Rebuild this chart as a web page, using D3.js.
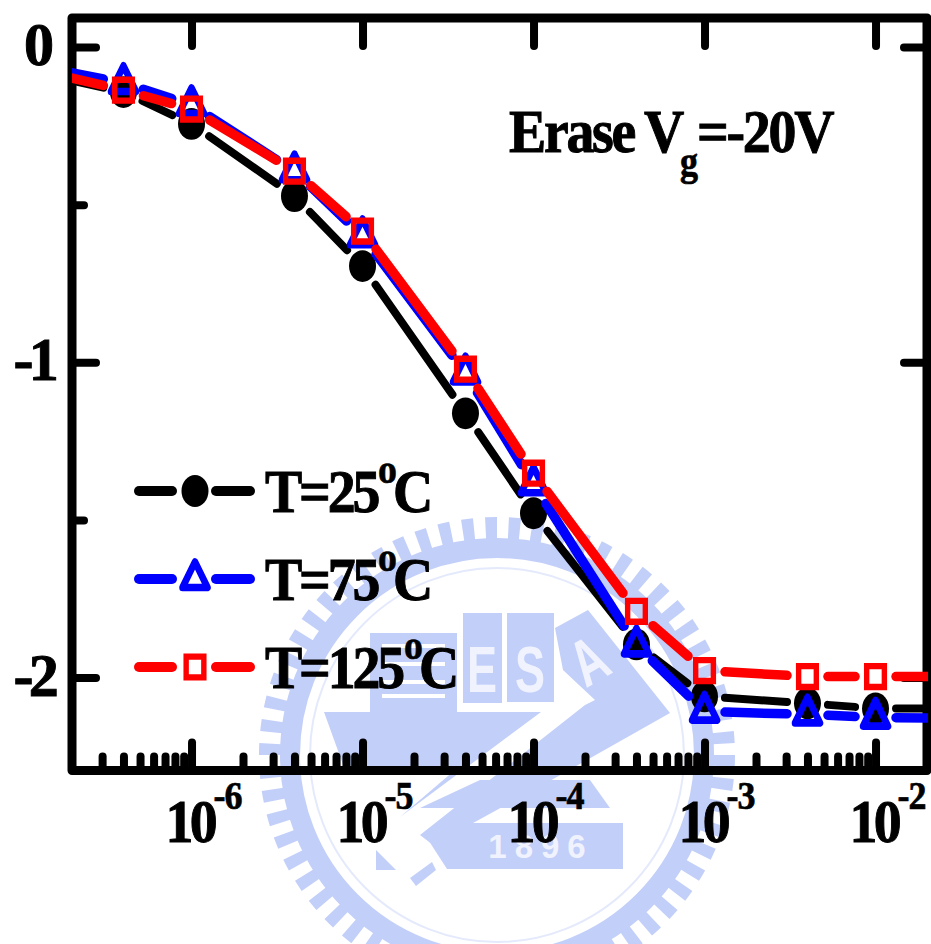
<!DOCTYPE html>
<html>
<head>
<meta charset="utf-8">
<script src="https://cdn.jsdelivr.net/npm/d3@7"></script>
<style>
html, body { margin: 0; padding: 0; background: #fff; overflow: hidden; }
text { font-family: "Liberation Serif", serif; font-weight: bold; fill: #000; }
</style>
</head>
<body>
<div id="svg-area"></div>
<script>
// chart values (end points lie outside the frame and get clipped)
const stressTimes = [1e-7, 4e-7, 1e-6, 4e-6, 1e-5, 4e-5, 1e-4, 4e-4, 1e-3, 4e-3, 1e-2, 4e-2]
const shift25 = [-0.07, -0.143, -0.244, -0.473, -0.695, -1.162, -1.479, -1.895, -2.06, -2.082, -2.098, -2.098]
const shift75 = [-0.05, -0.114, -0.184, -0.394, -0.6, -1.035, -1.387, -1.898, -2.108, -2.117, -2.127, -2.13]
const shift125 = [-0.06, -0.137, -0.197, -0.394, -0.584, -1.022, -1.352, -1.79, -1.978, -1.997, -1.997, -1.997]

const seriesNames = ["25", "75", "125"]
const seriesColors = ["#000", "#00f", "#f00"]
const seriesValues = [shift25, shift75, shift125]

const xMajor = [1e-6, 1e-5, 1e-4, 1e-3, 1e-2]
const xExponents = ["-6", "-5", "-4", "-3", "-2"]
const xMinor = [3e-7, 4e-7, 5e-7, 6e-7, 7e-7, 8e-7, 9e-7,
    2e-6, 3e-6, 4e-6, 5e-6, 6e-6, 7e-6, 8e-6, 9e-6,
    2e-5, 3e-5, 4e-5, 5e-5, 6e-5, 7e-5, 8e-5, 9e-5,
    2e-4, 3e-4, 4e-4, 5e-4, 6e-4, 7e-4, 8e-4, 9e-4,
    2e-3, 3e-3, 4e-3, 5e-3, 6e-3, 7e-3, 8e-3, 9e-3]
const yMajor = [0, -1, -2]
const yMinor = [-0.5, -1.5]

const width = 931, height = 944
const frame = { left: 72, right: 927, top: 18, bottom: 770.5 }
const stretch = 1.18   // the original picture is stretched vertically

const svg = d3.select("#svg-area").append("svg")
        .attr("width", width)
        .attr("height", height)
        .style("display", "block")

const x = d3.scaleLog().domain([2e-7, 2e-2]).range([frame.left, frame.right])
const y = d3.scaleLinear().domain([0.092, -2.295]).range([frame.top, frame.bottom])

// one run of condensed text, a thin stroke makes it as heavy as the original
const run = (parent, px, py, str, size, spacing, anchor, sx) => parent.append("text")
        .attr("transform", `translate(${px},${py}) scale(${sx || 0.9},1)`)
        .attr("text-anchor", anchor || "start")
        .attr("stroke", "#000")
        .attr("stroke-width", size > 45 ? 1 : 0.7)
        .style("font-size", size + "px")
        .style("letter-spacing", (spacing || 0) + "px")
        .text(str)


const drawWatermark = () => {
    const blue = "#c2cff9"
    const g = svg.append("g")
    const cx = 497, cy = 755

    g.append("circle").attr("cx", cx).attr("cy", cy).attr("r", 227)
            .attr("fill", "none").attr("stroke", blue).attr("stroke-width", 22)
            .attr("pathLength", 124).attr("stroke-dasharray", "1 1")
    g.append("circle").attr("cx", cx).attr("cy", cy).attr("r", 207)
            .attr("fill", "none").attr("stroke", blue).attr("stroke-width", 20)
    g.append("circle").attr("cx", cx).attr("cy", cy).attr("r", 187)
            .attr("fill", "none").attr("stroke", "#e4eafc").attr("stroke-width", 2)

    const shapes = [
        // stripes block, flag boxes, hull
        [[370, 633], [457, 633], [457, 712], [370, 712]],
        [[463, 613], [502, 613], [502, 703], [463, 703]],
        [[507, 613], [554, 613], [554, 702], [507, 702]],
        [[324, 712], [541, 712], [400, 817], [455, 770], [345, 770]],
        // sail with the A
        [[555, 628], [588, 610], [670, 713], [555, 778], [433, 845], [420, 835], [585, 705], [595, 700], [563, 670]],
        // lower wedge and banner
        [[480, 780], [590, 780], [610, 808], [420, 808]],
        [[447, 823], [623, 823], [623, 869], [447, 869], [427, 838]],
        [[376, 850], [396, 870], [376, 870]],
        [[410, 878], [432, 862], [436, 870], [416, 886]]
    ]
    g.selectAll("polygon").data(shapes).enter().append("polygon")
            .attr("points", d => d.join(" "))
            .attr("fill", blue)

    g.append("g").attr("stroke", "#fff").attr("stroke-width", 4)
            .selectAll("line").data([646, 664, 682, 696]).enter().append("line")
            .attr("x1", 382).attr("x2", 445)
            .attr("y1", d => d).attr("y2", d => d)

    const letters = [["E", 482, 692, 0], ["S", 530, 692, 0], ["A", 600, 680, -30]]
    letters.forEach(d => {
        g.append("text")
                .attr("transform", `translate(${d[1]},${d[2]}) rotate(${d[3]}) scale(0.9,1.3)`)
                .attr("text-anchor", "middle")
                .style("font-family", "'Liberation Sans', sans-serif")
                .style("font-size", "50px")
                .style("fill", "#f0f3fe")
                .text(d[0])
    })
    g.append("text")
            .attr("x", 541).attr("y", 858)
            .attr("text-anchor", "middle")
            .style("font-family", "'Liberation Sans', sans-serif")
            .style("font-size", "33px")
            .style("letter-spacing", "8px")
            .style("fill", "#f0f3fe")
            .text("1896")
}


const drawFrame = () => {
    const axes = svg.append("g")

    const styleTicks = (sel) => {
        sel.select(".domain").remove()
        sel.selectAll("line")
                .attr("stroke", "#000")
                .attr("stroke-width", 8)
                .attr("stroke-linecap", "round")
        sel.selectAll("text").remove()
    }

    axes.append("g").attr("transform", `translate(0,${frame.bottom})`)
            .call(d3.axisBottom(x).tickValues(xMajor).tickSize(-28)).call(styleTicks)
    axes.append("g").attr("transform", `translate(0,${frame.bottom})`)
            .call(d3.axisBottom(x).tickValues(xMinor).tickSize(-14)).call(styleTicks)
    axes.append("g").attr("transform", `translate(0,${frame.top})`)
            .call(d3.axisTop(x).tickValues(xMajor).tickSize(-28)).call(styleTicks)
    axes.append("g").attr("transform", `translate(${frame.left},0)`)
            .call(d3.axisLeft(y).tickValues(yMajor).tickSize(-24)).call(styleTicks)
    axes.append("g").attr("transform", `translate(${frame.left},0)`)
            .call(d3.axisLeft(y).tickValues(yMinor).tickSize(-12)).call(styleTicks)
    axes.append("g").attr("transform", `translate(${frame.right},0)`)
            .call(d3.axisRight(y).tickValues(yMajor).tickSize(-23)).call(styleTicks)

    axes.append("rect")
            .attr("x", frame.left)
            .attr("y", frame.top)
            .attr("width", frame.right - frame.left)
            .attr("height", frame.bottom - frame.top)
            .attr("fill", "none")
            .attr("stroke", "#000")
            .attr("stroke-width", 9)
            .attr("stroke-linejoin", "round")

    xMajor.forEach((d, i) => {
        run(svg, x(d) - 26, 842, "10", 62, -4)
        run(svg, x(d) + 22, 809, xExponents[i], 40, -1)
    })
    yMajor.forEach(d => {
        const label = d3.format("d")(d).replace("\u2212", "-")
        run(svg, 54, y(d) + 18, label, 62, d < 0 ? -5 : 0, "end", 0.97)
    })
}


const addMarker = (parent, i, px, py) => {
    const g = parent.append("g").attr("transform", `translate(${px},${py}) scale(1,${stretch})`)
    if (i == 0) {
        g.append("path")
                .attr("d", d3.symbol(d3.symbolCircle, Math.PI * 13.5 * 13.5)())
                .attr("fill", seriesColors[i])
    } else if (i == 1) {
        g.append("path")
                .attr("d", d3.symbol(d3.symbolTriangle, 271)())
                .attr("fill", "none")
                .attr("stroke", seriesColors[i])
                .attr("stroke-width", 6.5)
                .attr("stroke-linejoin", "round")
    } else {
        g.append("path")
                .attr("d", d3.symbol(d3.symbolSquare, 313)())
                .attr("fill", "none")
                .attr("stroke", seriesColors[i])
                .attr("stroke-width", 5.4)
    }
}


const drawSeries = () => {
    svg.append("clipPath").attr("id", "plot-clip")
            .append("rect")
            .attr("x", frame.left)
            .attr("y", 0)
            .attr("width", frame.right - frame.left + 1)
            .attr("height", height)

    const plot = svg.append("g").attr("clip-path", "url(#plot-clip)")
    const gap = 20.5

    seriesValues.forEach((values, i) => {
        const pts = values.map((v, j) => [x(stressTimes[j]), y(v)])

        // the line stops short of each marker
        d3.pairs(pts).forEach(([a, b]) => {
            const dx = b[0] - a[0], dy = b[1] - a[1]
            const len = Math.hypot(dx, dy)
            const t = gap / Math.hypot(dx / len, dy / len / stretch)
            plot.append("line")
                    .attr("x1", a[0] + dx / len * t)
                    .attr("y1", a[1] + dy / len * t)
                    .attr("x2", b[0] - dx / len * t)
                    .attr("y2", b[1] - dy / len * t)
                    .attr("stroke", seriesColors[i])
                    .attr("stroke-width", i == 0 ? 8 : 9.5)
                    .attr("stroke-linecap", "round")
        })
        pts.forEach(p => addMarker(plot, i, p[0], p[1]))
    })
}


const drawLegend = () => {
    const rows = [491, 579, 667]
    const legend = svg.append("g")

    seriesNames.forEach((name, i) => {
        const py = rows[i]
        ;[[139, 172], [216, 250]].forEach(seg => {
            legend.append("line")
                    .attr("x1", seg[0]).attr("x2", seg[1])
                    .attr("y1", py).attr("y2", py)
                    .attr("stroke", seriesColors[i])
                    .attr("stroke-width", 10)
                    .attr("stroke-linecap", "round")
        })
        addMarker(legend, i, 195, py)

        const wide = name.length == 3 ? 26 : 0
        run(legend, 265, py + 21, "T=" + name, 62, -3.5)
        run(legend, 378 + wide, py - 8, "o", 42)
        run(legend, 393 + wide, py + 21, "C", 62)
    })
}


const drawTitle = () => {
    run(svg, 509, 152, "Erase", 62, -2.5)
    run(svg, 644, 152, "V", 62)
    run(svg, 680, 175, "g", 40)
    run(svg, 697, 152, "=-20V", 62, -2.5)
}


drawWatermark()
drawFrame()
drawSeries()
drawLegend()
drawTitle()
</script>
</body>
</html>
